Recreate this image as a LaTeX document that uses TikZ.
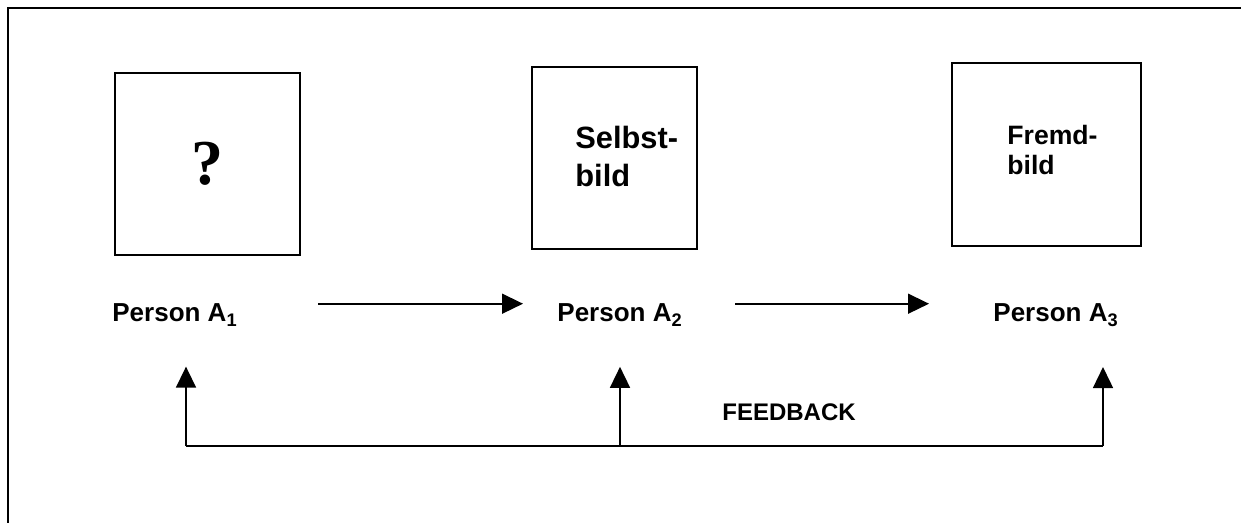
\documentclass[tikz,border=0pt]{standalone}
\usepackage{fontspec}
\setmainfont{Liberation Sans}
\newfontfamily\serifbold{Liberation Serif}[BoldFont={Liberation Serif Bold}]
\usetikzlibrary{arrows.meta}

\tikzset{
  bildbox/.style={draw, line width=1pt, inner sep=0pt},
  person/.style={font=\bfseries\fontsize{13}{15}\selectfont, inner sep=0pt, anchor=base west},
  pfeil/.style={line width=0.8pt, -{Triangle[length=10.5pt, width=10pt]}},
}

\begin{document}
\begin{tikzpicture}[x=0.5pt, y=-0.5pt]

\useasboundingbox (0,0) rectangle (1241,523);
\clip (0,0) rectangle (1241,523);

% frame
\draw[line width=1pt] (8,8) rectangle (1300,600);

% boxes
\node[bildbox, minimum width=92.5pt, minimum height=91pt] (frage) at (207.5,164)
  {\serifbold\bfseries\fontsize{32}{36}\selectfont ?};
\node[bildbox, minimum width=82.5pt, minimum height=91pt] (selbst) at (614.5,158) {};
\node[bildbox, minimum width=94.5pt, minimum height=91.5pt] (fremd) at (1046.5,154.5) {};

\node[anchor=north west, inner sep=0pt, align=left, font=\bfseries\fontsize{15.4}{19}\selectfont]
  (selbsttext) at (575,126) {Selbst-\\bild};
\node[anchor=north west, inner sep=0pt, align=left, font=\bfseries\fontsize{13.3}{15}\selectfont]
  (fremdtext) at (1007,125) {Fremd-\\bild};

% persons
\node[person] (a1) at (112,322) {Person A\textsubscript{1}};
\node[person] (a2) at (557,322) {Person A\textsubscript{2}};
\node[person] (a3) at (993,322) {Person A\textsubscript{3}};

\draw[pfeil, shorten <=40pt, shorten >=17pt] (a1.north east) -- (a2.north west);
\draw[pfeil, shorten <=26pt, shorten >=32pt] (a2.north east) -- (a3.north west);

% feedback
\coordinate (fbL) at (186,446);
\coordinate (fbM) at (620,446);
\coordinate (fbR) at (1103,446);
\draw[line width=0.8pt] (fbL) -- (fbR);
\draw[pfeil, shorten >=20pt] (fbL) -- (fbL |- a1.south);
\draw[pfeil, shorten >=20pt] (fbM) -- (fbM |- a2.south);
\draw[pfeil, shorten >=20pt] (fbR) -- (fbR |- a3.south);

\node[font=\bfseries\fontsize{12}{14}\selectfont, inner sep=0pt, anchor=base west]
  (fb) at (722,420) {FEEDBACK};

\end{tikzpicture}
\end{document}
